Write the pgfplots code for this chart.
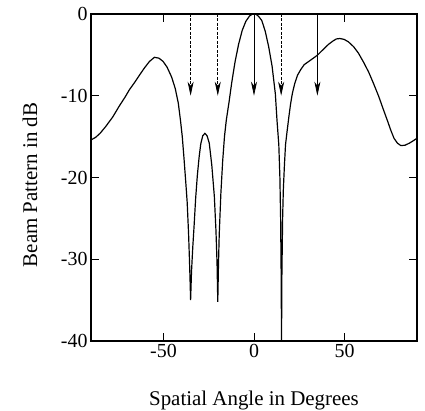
\documentclass[border=0pt]{standalone}
\usepackage{fontspec}
\setmainfont{Liberation Serif}
\usepackage{pgfplots}
\pgfplotsset{compat=1.18}
\usetikzlibrary{arrows.meta}

\begin{document}
\begin{tikzpicture}
\begin{axis}[
  scale only axis,
  width=326bp, height=327bp,
  xmin=-90, xmax=90, ymin=-40, ymax=0,
  xtick={-50,0,50}, ytick={-40,-30,-20,-10,0},
  tick align=inside,
  major tick length=8bp,
  axis line style={line width=1.1pt},
  tick style={line width=0.9pt, black},
  tick label style={font=\fontsize{20}{24}\selectfont},
  /pgf/number format/assume math mode=true,
  xlabel={Spatial Angle in Degrees},
  ylabel={Beam Pattern in dB},
  label style={font=\fontsize{21}{25}\selectfont},
  xlabel style={at={(axis description cs:0.5,-0.198)}, anchor=base},
  ylabel style={at={(axis description cs:-0.187,0.477)}, anchor=center},
  clip=true,
]
  % beam pattern
  \addplot[black, line width=1.2pt] coordinates {
    (-90,-15.4) (-87.5,-15.1) (-85,-14.6) (-82,-13.8) (-78,-12.6) (-74.5,-11.3)
    (-71,-10.1) (-68.9,-9.3) (-66,-8.4) (-63.3,-7.5) (-60.5,-6.6) (-57.7,-5.8)
    (-55,-5.3) (-52.5,-5.4) (-50.2,-5.8) (-48,-6.5) (-45.5,-7.7) (-43.5,-9.1)
    (-41.8,-10.9) (-40.6,-13) (-39.6,-15) (-38.6,-17.8) (-37.7,-20.5) (-36.9,-23)
    (-36.1,-27) (-35.5,-31) (-35,-35) (-34.5,-31.5) (-33.8,-28.5) (-33.1,-26)
    (-32.2,-22.5) (-31.3,-19.8) (-30.3,-17.5) (-29.4,-15.9) (-28.3,-14.9) (-27.1,-14.6)
    (-25.9,-14.9) (-24.7,-15.8) (-23.3,-18.5) (-21.9,-22.3) (-21,-26.5) (-20.4,-30.5)
    (-20,-35.2) (-19.6,-30.5) (-19.2,-27) (-18.3,-22) (-17.3,-18) (-16.3,-15)
    (-15.3,-13) (-13.8,-10.8) (-12.3,-8.4) (-10.5,-5.9) (-8.5,-3.7) (-6.5,-2.0)
    (-4.5,-0.9) (-2.5,-0.25) (-1,-0.03) (0,0) (1.2,-0.05) (2.6,-0.3) (4.3,-0.8) (6.2,-2.1)
    (8.1,-4) (10,-6.4) (11.8,-9.8) (12.7,-13) (13.7,-16) (14.3,-20)
    (14.7,-25) (15,-32) (15.2,-40) (15.4,-32) (15.8,-25) (16.2,-21.5)
    (16.8,-18.5) (17.4,-16) (18.3,-14.3) (19.3,-12.5) (20.2,-11) (21.2,-9.7)
    (22.5,-8.5) (24,-7.5) (25.8,-6.8) (27.7,-6.2) (29.6,-5.9) (31.5,-5.6)
    (33.4,-5.3) (35.2,-5) (37,-4.6) (38.9,-4.2) (41.2,-3.7) (43.6,-3.3)
    (45.5,-3.05) (47.4,-3.0) (49.7,-3.1) (52.1,-3.4) (55,-4) (57.7,-4.8)
    (60.5,-5.9) (63.3,-7.1) (66,-8.5) (68.9,-10.1) (71.3,-11.6) (73.6,-13)
    (75.5,-14.2) (77.3,-15.2) (79.2,-15.8) (81.1,-16.1) (83.4,-16.05) (85.8,-15.8)
    (88,-15.5) (90,-15.2)
  };
  % interference directions (dashed) and signal directions (solid)
  \addplot[black, line width=0.8pt, dash pattern=on 3bp off 1.5bp,
    -{Stealth[length=14bp,width=6bp,inset=4bp,sep=0pt]}] coordinates {(-35,0) (-35,-10)};
  \addplot[black, line width=0.8pt, dash pattern=on 3bp off 1.5bp,
    -{Stealth[length=14bp,width=6bp,inset=4bp,sep=0pt]}] coordinates {(-20,0) (-20,-10)};
  \addplot[black, line width=0.8pt, dash pattern=on 3bp off 1.5bp,
    -{Stealth[length=14bp,width=6bp,inset=4bp,sep=0pt]}] coordinates {(15,0) (15,-10)};
  \addplot[black, line width=0.8pt,
    -{Stealth[length=14bp,width=6bp,inset=4bp]}] coordinates {(0,0) (0,-10)};
  \addplot[black, line width=0.8pt,
    -{Stealth[length=14bp,width=6bp,inset=4bp]}] coordinates {(35,0) (35,-10)};
\end{axis}
\pgfresetboundingbox
\path[use as bounding box] ([shift={(-91bp,-70bp)}]current axis.south west)
  rectangle ([shift={(8bp,14bp)}]current axis.north east);
\end{tikzpicture}
\end{document}
